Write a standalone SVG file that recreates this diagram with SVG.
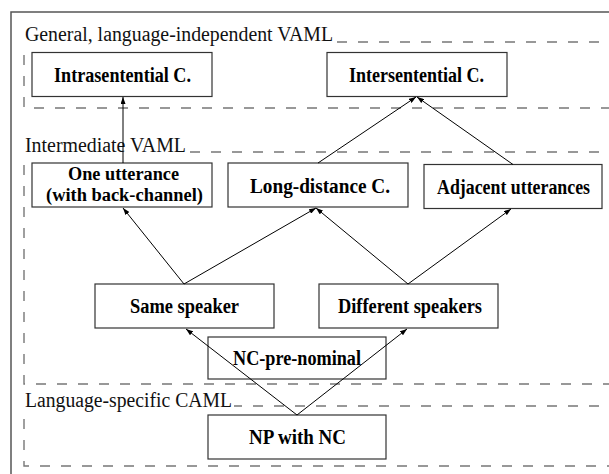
<svg xmlns="http://www.w3.org/2000/svg" width="609" height="474" viewBox="0 0 609 474">
<defs>
<marker id="ah" markerWidth="7" markerHeight="5" refX="7" refY="2.5" orient="auto" markerUnits="userSpaceOnUse"><path d="M0,0 L7,2.5 L0,5 Z" fill="#000"/></marker>
</defs>
<style>
.frame{fill:none;stroke:#555;stroke-width:1.5}
.region{fill:none;stroke:#777;stroke-width:1.4;stroke-dasharray:10 11}
.box{fill:#fff;stroke:#333;stroke-width:1.2}
.lbl{font-family:'Liberation Serif',serif;font-size:20px;font-weight:bold;fill:#000;text-anchor:middle}
.lbl2{font-size:18.5px}
.rlbl{font-family:'Liberation Serif',serif;font-size:20px;fill:#111}
.conn{fill:none;stroke:#000;stroke-width:1;marker-end:url(#ah)}
</style>
<rect width="609" height="474" fill="#fff"/>
<path class="frame" d="M11,474 V12 H609"/>
<g id="regions">
<path class="region" d="M620,42 H24 V108 H620"/>
<path class="region" d="M620,152 H24 V384 H620"/>
<path class="region" d="M620,406 H24 V466 H620"/>
<rect x="23" y="25" width="312" height="19" fill="#fff"/>
<rect x="23" y="135" width="165" height="19" fill="#fff"/>
<rect x="23" y="390" width="211" height="19" fill="#fff"/>
<text class="rlbl" x="25" y="41" textLength="308" lengthAdjust="spacingAndGlyphs">General, language-independent VAML</text>
<text class="rlbl" x="25" y="152" textLength="161" lengthAdjust="spacingAndGlyphs">Intermediate VAML</text>
<text class="rlbl" x="25" y="407" textLength="207" lengthAdjust="spacingAndGlyphs">Language-specific CAML</text>
</g>
<g id="nodes">
<g id="n-intra"><rect class="box" x="32" y="52.5" width="180" height="44"/><text class="lbl" x="122.5" y="82" textLength="137" lengthAdjust="spacingAndGlyphs">Intrasentential C.</text></g>
<g id="n-inter"><rect class="box" x="327" y="52.5" width="180" height="44"/><text class="lbl" x="416.5" y="82" textLength="135" lengthAdjust="spacingAndGlyphs">Intersentential C.</text></g>
<g id="n-one"><rect class="box" x="32" y="163" width="180" height="44"/><text class="lbl lbl2" x="123.5" y="180" textLength="111" lengthAdjust="spacingAndGlyphs">One utterance</text><text class="lbl lbl2" x="124.5" y="201" textLength="157" lengthAdjust="spacingAndGlyphs">(with back-channel)</text></g>
<g id="n-long"><rect class="box" x="228" y="163" width="180" height="44"/><text class="lbl" x="320" y="193" textLength="140" lengthAdjust="spacingAndGlyphs">Long-distance C.</text></g>
<g id="n-adj"><rect class="box" x="424" y="164.5" width="178" height="44"/><text class="lbl" x="513.5" y="194" textLength="153" lengthAdjust="spacingAndGlyphs">Adjacent utterances</text></g>
<g id="n-same"><rect class="box" x="95" y="284" width="179" height="44"/><text class="lbl" x="184.5" y="313" textLength="109" lengthAdjust="spacingAndGlyphs">Same speaker</text></g>
<g id="n-diff"><rect class="box" x="319" y="284" width="179" height="44"/><text class="lbl" x="410" y="313" textLength="144" lengthAdjust="spacingAndGlyphs">Different speakers</text></g>
<g id="n-ncpre"><rect class="box" x="208" y="337" width="178" height="42"/><text class="lbl" x="297" y="365" textLength="128" lengthAdjust="spacingAndGlyphs">NC-pre-nominal</text></g>
<g id="n-np"><rect class="box" x="208" y="415" width="178" height="44"/><text class="lbl" x="297.5" y="444" textLength="97" lengthAdjust="spacingAndGlyphs">NP with NC</text></g>
</g>
<g id="connectors">
<path class="conn" d="M123,163 L123,97"/>
<path class="conn" d="M318,163 L416,97"/>
<path class="conn" d="M513,164.5 L417,97"/>
<path class="conn" d="M184,284 L123,208"/>
<path class="conn" d="M184,284 L316,208"/>
<path class="conn" d="M408,284 L316,208"/>
<path class="conn" d="M408,284 L511,209"/>
<path class="conn" d="M297,415 L186,329"/>
<path class="conn" d="M297,415 L407,329"/>
</g>
</svg>
